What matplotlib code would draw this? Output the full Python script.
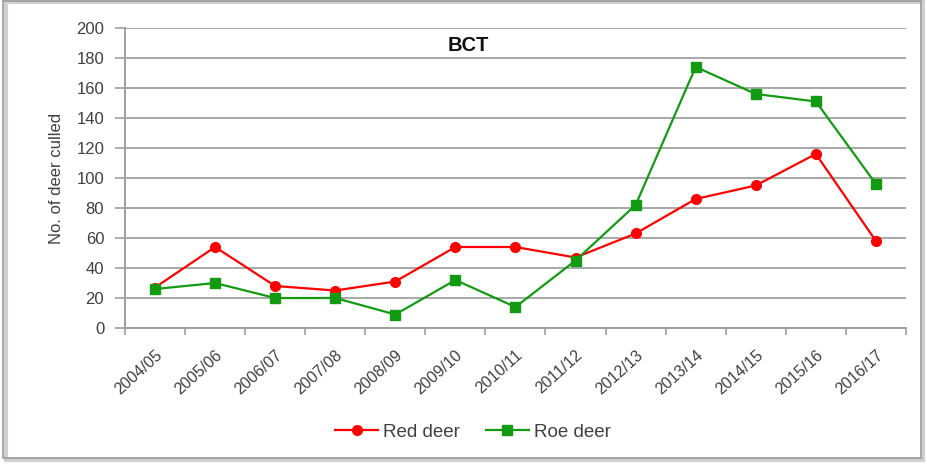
import numpy as np
import matplotlib
matplotlib.use('Agg')
import matplotlib.pyplot as plt
from matplotlib.patches import Rectangle

seasons = ['2004/05', '2005/06', '2006/07', '2007/08', '2008/09', '2009/10', '2010/11',
           '2011/12', '2012/13', '2013/14', '2014/15', '2015/16', '2016/17']
red_deer = [27, 54, 28, 25, 31, 54, 54, 47, 63, 86, 95, 116, 58]
roe_deer = [26, 30, 20, 20, 9, 32, 14, 45, 82, 174, 156, 151, 96]
y_ticks = [0, 20, 40, 60, 80, 100, 120, 140, 160, 180, 200]

plt.rcParams['font.family'] = ['Liberation Sans', 'DejaVu Sans']

fig = plt.figure(figsize=(9.27, 4.66), dpi=100)
ax = fig.add_axes([0.1348, 0.2961, 0.8425, 0.6439])

# marco exterior con sombra
fig.patches.append(Rectangle((0.006, 0.012), 0.990, 0.983, transform=fig.transFigure,
                             fill=False, edgecolor='#d0d0d0', linewidth=3, zorder=0))
fig.patches.append(Rectangle((0.003, 0.017), 0.990, 0.980, transform=fig.transFigure,
                             fill=False, edgecolor='#9a9a9a', linewidth=1.2, zorder=1))

x = np.arange(len(seasons))
ax.plot(x, red_deer, color='#ff0000', marker='o', markersize=7, linewidth=1.6, label='Red deer', zorder=3)
ax.plot(x, roe_deer, color='#139a13', marker='s', markersize=7, linewidth=1.6, label='Roe deer', zorder=3)

ax.set_xlim(-0.5, len(seasons) - 0.5)
ax.set_ylim(0, 200)
ax.set_yticks(y_ticks)
ax.set_xticks(x)
ax.set_xticklabels(seasons, rotation=42, ha='right', rotation_mode='anchor', fontsize=11.5, color='#404040')
ax.set_xticks(np.arange(-0.5, len(seasons)), minor=True)
ax.tick_params(axis='x', which='major', length=0, pad=14)
ax.tick_params(axis='x', which='minor', length=5, color='#a0a0a0', width=1.2)
ax.tick_params(axis='y', length=7, color='#a0a0a0', width=1.2, labelsize=12, labelcolor='#404040', pad=8)

ax.grid(axis='y', color='#a8a8a8', linewidth=1.4)
ax.set_axisbelow(True)
for s in ['top', 'right']:
    ax.spines[s].set_visible(False)
for s in ['left', 'bottom']:
    ax.spines[s].set_color('#a0a0a0')
    ax.spines[s].set_linewidth(1.4)

ax.set_ylabel('No. of deer culled', fontsize=12, color='#404040', labelpad=9)
ax.text(0.44, 0.94, 'BCT', transform=ax.transAxes, fontsize=14.5, fontweight='bold',
        ha='center', va='center', color='#111111')

fig.legend(loc='center', bbox_to_anchor=(0.51, 0.073), ncol=2, frameon=False,
           fontsize=13.5, handlelength=2.3, handletextpad=0.25, columnspacing=1.4, labelcolor='#404040')

fig.savefig('out.png', dpi=100)
plt.close()
